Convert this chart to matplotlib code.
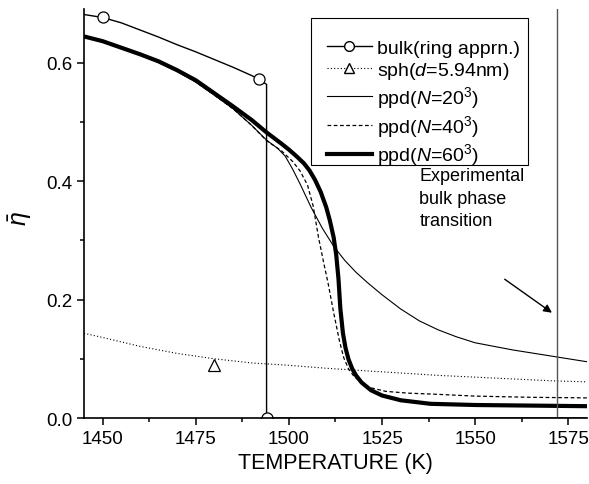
import numpy as np
import matplotlib
matplotlib.use('Agg')
import matplotlib.pyplot as plt
from matplotlib.lines import Line2D
from matplotlib.patches import Rectangle

plt.rcParams['font.family'] = ['Liberation Sans', 'DejaVu Sans']
plt.rcParams['mathtext.fontset'] = 'custom'
plt.rcParams['mathtext.rm'] = 'Liberation Sans'
plt.rcParams['mathtext.it'] = 'Liberation Sans:italic'

# bulk (ring approximation)
T_bulk = [1445, 1450, 1455, 1460, 1465, 1470, 1475, 1480, 1485, 1490, 1492, 1494, 1494, 1580]
eta_bulk = [0.681, 0.676, 0.667, 0.655, 0.643, 0.630, 0.618, 0.605, 0.592, 0.578, 0.572, 0.563, 0.0, 0.0]
T_bulk_mk = [1450, 1492, 1494]
eta_bulk_mk = [0.676, 0.572, 0.0]

# sphere d=5.94nm
T_sph = [1445, 1450, 1460, 1470, 1480, 1490, 1500, 1510, 1520, 1530, 1540, 1550, 1560, 1570, 1580]
eta_sph = [0.143, 0.136, 0.121, 0.109, 0.100, 0.093, 0.089, 0.084, 0.080, 0.076, 0.072, 0.069, 0.066, 0.063, 0.061]
T_sph_mk = [1480]
eta_sph_mk = [0.089]

# ppd N=20^3
T_20 = [1445, 1450, 1455, 1460, 1465, 1470, 1475, 1480, 1485, 1490, 1494, 1497, 1499, 1501, 1503,
        1506, 1509, 1512, 1515, 1518, 1521, 1525, 1530, 1535, 1540, 1545, 1550, 1560, 1570, 1580]
eta_20 = [0.645, 0.636, 0.625, 0.613, 0.600, 0.585, 0.567, 0.545, 0.522, 0.494, 0.469, 0.455, 0.442, 0.420, 0.395,
          0.355, 0.320, 0.290, 0.266, 0.246, 0.229, 0.208, 0.184, 0.164, 0.149, 0.137, 0.127, 0.115, 0.105, 0.095]

# ppd N=40^3
T_40 = [1445, 1450, 1455, 1460, 1465, 1470, 1475, 1480, 1485, 1490, 1494, 1498, 1501, 1503, 1505,
        1506.5, 1508, 1509.3, 1510.5, 1512, 1513.5, 1514.7, 1516, 1517.5, 1520, 1522, 1526, 1532,
        1540, 1550, 1565, 1580]
eta_40 = [0.645, 0.636, 0.625, 0.613, 0.600, 0.585, 0.567, 0.545, 0.522, 0.494, 0.468, 0.451, 0.433, 0.417, 0.393,
          0.358, 0.303, 0.263, 0.228, 0.178, 0.132, 0.102, 0.083, 0.070, 0.057, 0.051, 0.045, 0.042,
          0.040, 0.037, 0.035, 0.034]

# ppd N=60^3
T_60 = [1445, 1450, 1455, 1460, 1465, 1470, 1475, 1480, 1485, 1490, 1494, 1498, 1500, 1502, 1504,
        1505.5, 1507, 1508.5, 1510, 1511, 1512, 1512.7, 1513.3, 1513.8, 1514.5, 1515.2, 1516, 1517,
        1518, 1519.5, 1522, 1525, 1530, 1538, 1550, 1565, 1580]
eta_60 = [0.644, 0.636, 0.625, 0.614, 0.602, 0.587, 0.570, 0.548, 0.526, 0.503, 0.482, 0.463, 0.453, 0.442, 0.430,
          0.418, 0.402, 0.382, 0.356, 0.333, 0.305, 0.275, 0.235, 0.185, 0.143, 0.118, 0.099, 0.083,
          0.072, 0.060, 0.047, 0.038, 0.030, 0.024, 0.022, 0.021, 0.020]

T_exp = 1572

fig = plt.figure(figsize=(5.89, 4.85), dpi=100)
ax = fig.add_axes([0.1426, 0.136, 0.854, 0.843])

ax.plot(T_bulk, eta_bulk, color='black', lw=1.0)
ax.plot(T_bulk_mk, eta_bulk_mk, ls='none', marker='o', ms=8, mfc='white', mec='black', mew=0.9)
ax.plot(T_sph, eta_sph, color='black', lw=0.8, ls=(0, (1, 2)))
ax.plot(T_sph_mk, eta_sph_mk, ls='none', marker='^', ms=9, mfc='white', mec='black', mew=0.9)
ax.plot(T_20, eta_20, color='black', lw=0.8)
ax.plot(T_40, eta_40, color='black', lw=0.9, ls=(0, (3, 2)))
ax.plot(T_60, eta_60, color='black', lw=3.0)

ax.axvline(T_exp, color='#555555', lw=1.0)

ax.text(1535, 0.423, 'Experimental\nbulk phase\ntransition', fontsize=13,
        ha='left', va='top', linespacing=1.4)
ax.annotate('', xy=(1571.2, 0.175), xytext=(1557.3, 0.237),
            arrowprops=dict(arrowstyle='-|>', color='black', lw=1, mutation_scale=12))

# legend frame drawn separately (Origin-style box with larger top margin)
ax.add_patch(Rectangle((0.451, 0.619), 0.432, 0.359, transform=ax.transAxes,
                       facecolor='white', edgecolor='black', lw=0.8, zorder=4))
handles = [
    Line2D([], [], color='black', lw=1.0, marker='o', ms=7, mfc='white', mec='black'),
    Line2D([], [], color='black', lw=0.8, ls=(0, (1, 2)), marker='^', ms=7, mfc='white', mec='black'),
    Line2D([], [], color='black', lw=0.8),
    Line2D([], [], color='black', lw=0.9, ls=(0, (3, 2))),
    Line2D([], [], color='black', lw=3.0),
]
labels = ['bulk(ring apprn.)', 'sph($d$=5.94nm)', 'ppd($N$=20$^3$)', 'ppd($N$=40$^3$)', 'ppd($N$=60$^3$)']
leg = ax.legend(handles, labels, loc='upper left', bbox_to_anchor=(0.483, 0.926), borderaxespad=0,
                fontsize=14, frameon=False, handlelength=2.3, handletextpad=0.26,
                labelspacing=0.15, borderpad=0)
leg.set_zorder(5)

ax.set_xlim(1445, 1580)
ax.set_ylim(0, 0.69)
ax.set_xticks([1450, 1475, 1500, 1525, 1550, 1575])
ax.set_xticks(np.arange(1462.5, 1580, 25), minor=True)
ax.set_yticks([0.0, 0.2, 0.4, 0.6])
ax.set_yticks([0.1, 0.3, 0.5], minor=True)
ax.set_yticklabels(['0.0', '0.2', '0.4', '0.6'])

for s in ['top', 'right']:
    ax.spines[s].set_visible(False)
for s in ['left', 'bottom']:
    ax.spines[s].set_linewidth(1.2)
ax.tick_params(which='major', direction='out', length=5, width=1.1, labelsize=13.5)
ax.tick_params(which='minor', direction='out', length=3, width=1.1)

ax.set_xlabel('TEMPERATURE (K)', fontsize=15.5)
ax.set_ylabel(r'$\bar{\eta}$', fontsize=18)
ax.yaxis.set_label_coords(-0.1, 0.49)

fig.savefig('out.png', dpi=100)
